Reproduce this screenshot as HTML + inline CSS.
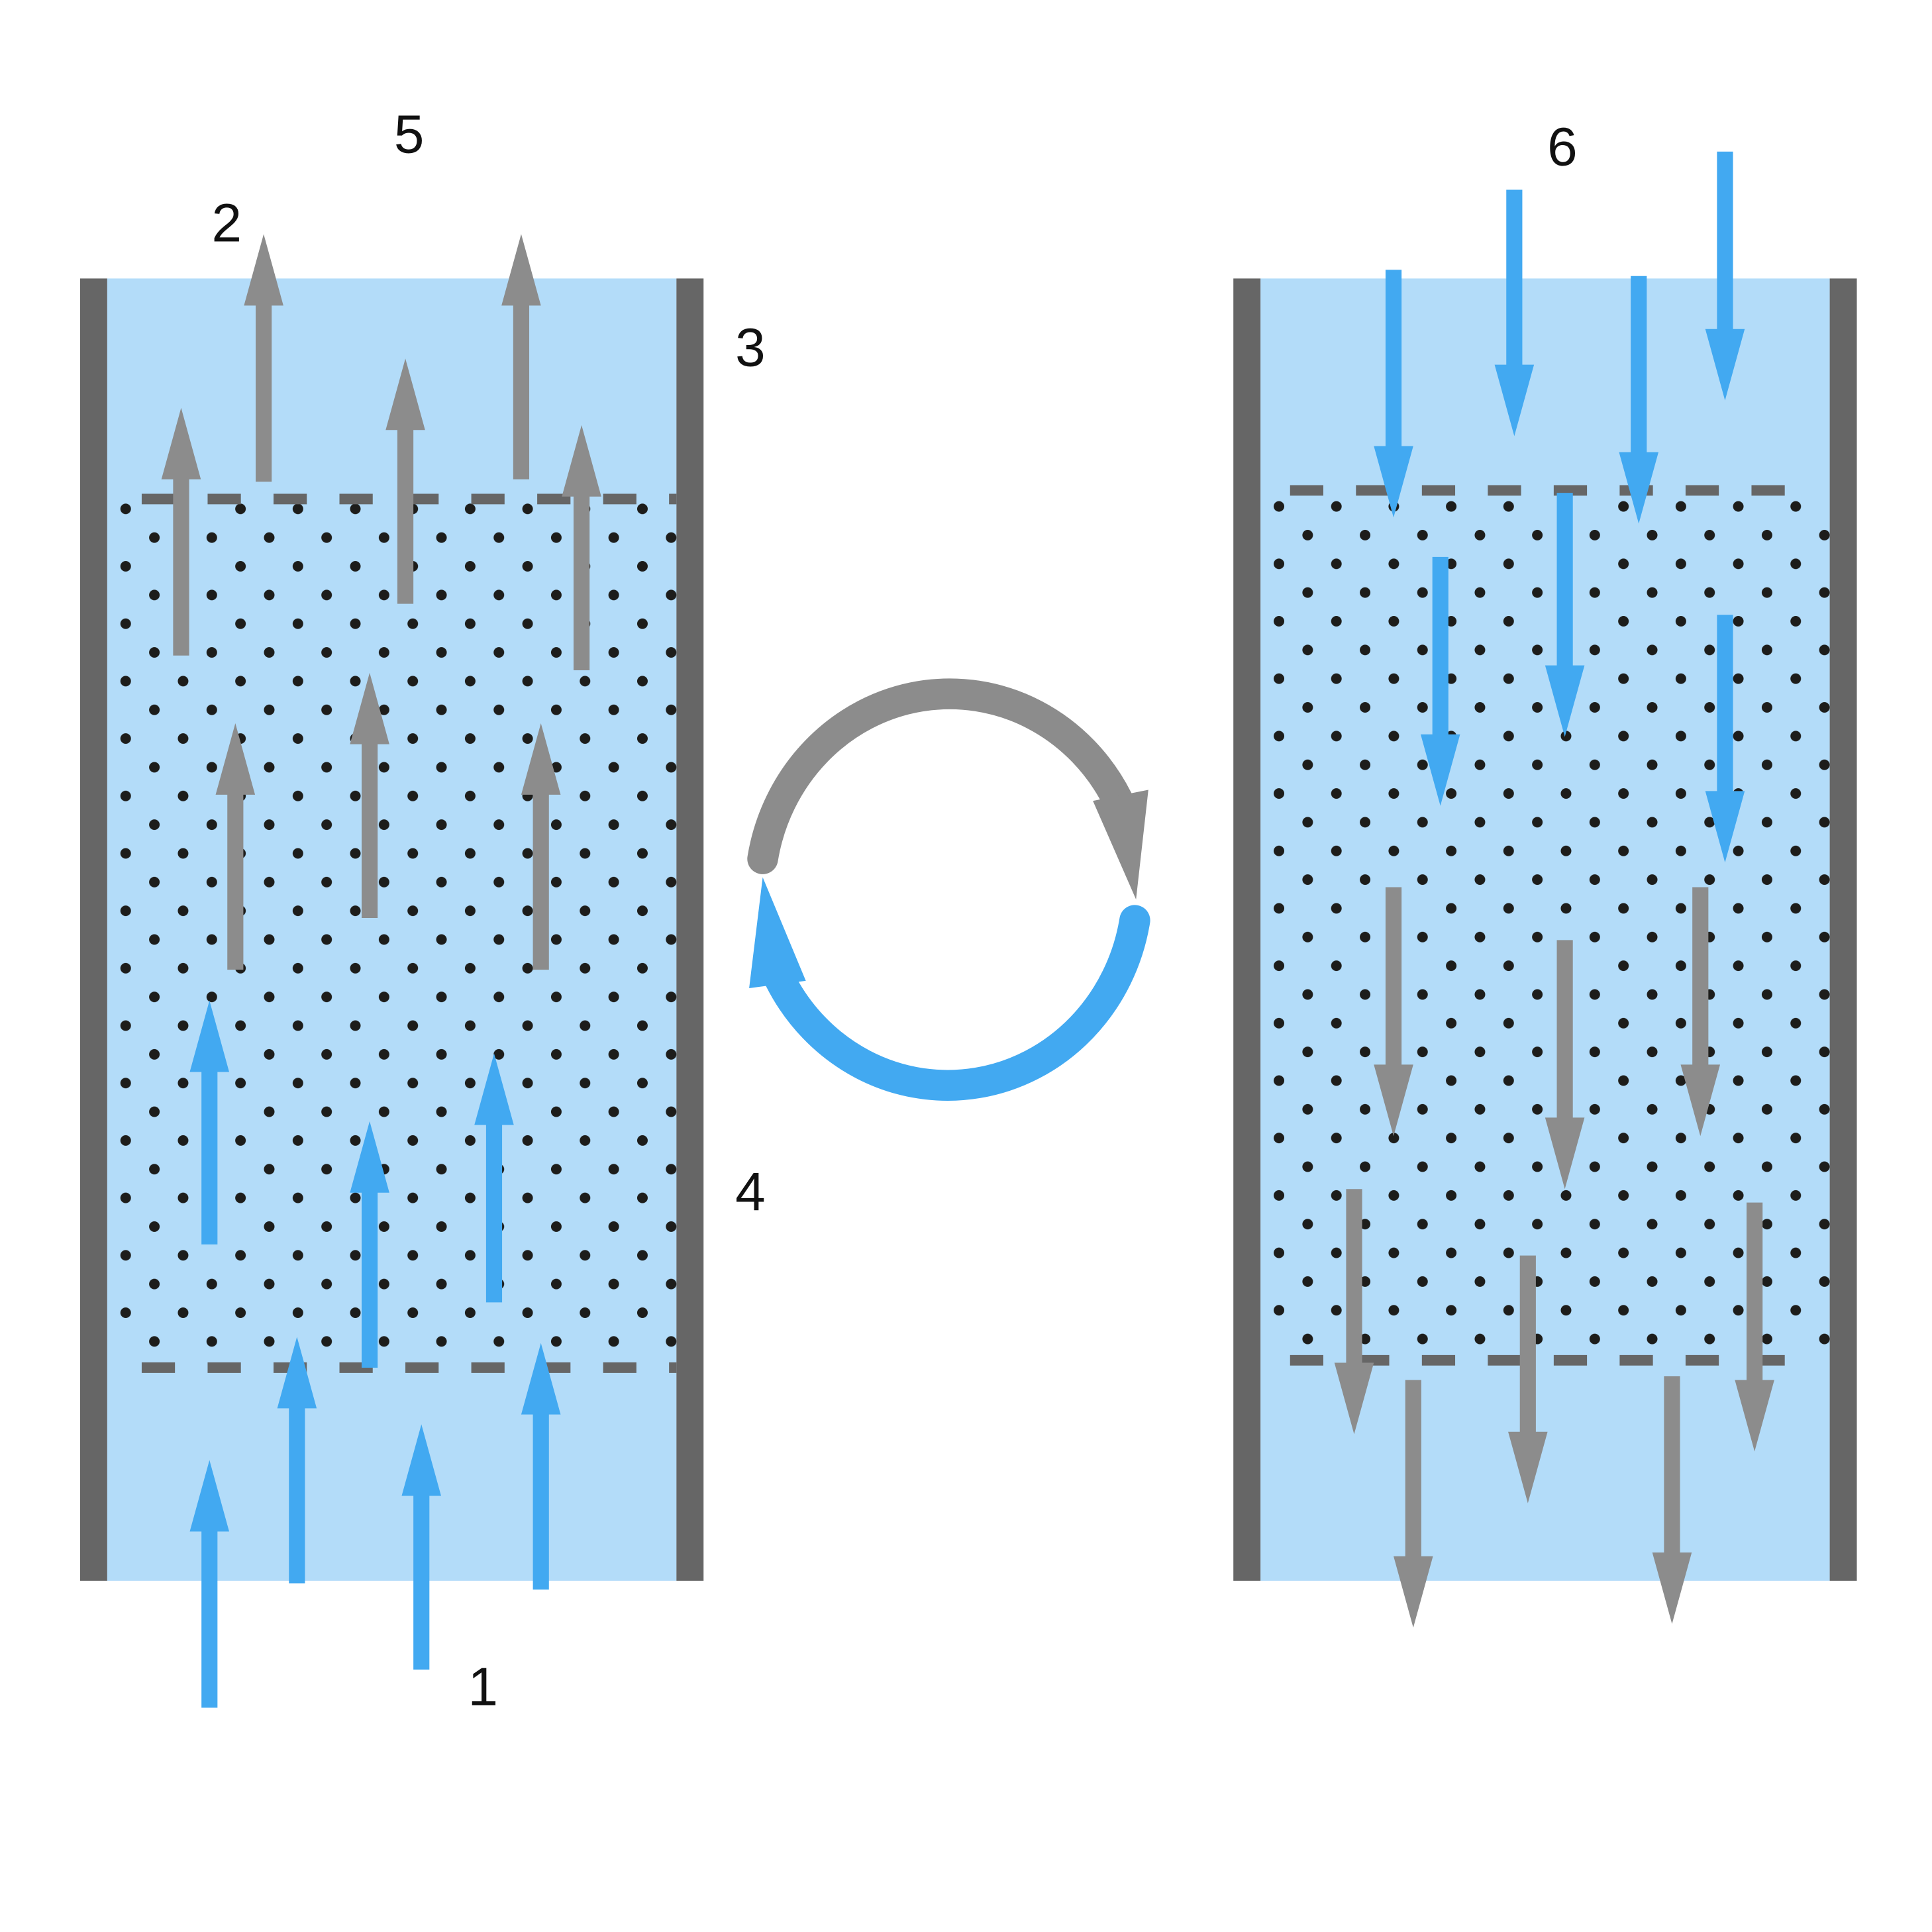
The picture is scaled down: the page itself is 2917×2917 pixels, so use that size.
<!DOCTYPE html>
<html><head><meta charset="utf-8"><style>html,body{margin:0;padding:0;background:#fff}svg{display:block}</style></head>
<body>
<svg width="2917" height="2917" viewBox="0 0 1568 1568" xmlns="http://www.w3.org/2000/svg">
<defs>
<pattern id="dl" patternUnits="userSpaceOnUse" x="102" y="413" width="46.6" height="46.6">
<circle cx="0" cy="0" r="4.3" fill="#1d1d1b"/><circle cx="46.6" cy="0" r="4.3" fill="#1d1d1b"/><circle cx="0" cy="46.6" r="4.3" fill="#1d1d1b"/><circle cx="46.6" cy="46.6" r="4.3" fill="#1d1d1b"/><circle cx="23.3" cy="23.3" r="4.3" fill="#1d1d1b"/>
</pattern>
<pattern id="dr" patternUnits="userSpaceOnUse" x="1038" y="411" width="46.6" height="46.6">
<circle cx="0" cy="0" r="4.3" fill="#1d1d1b"/><circle cx="46.6" cy="0" r="4.3" fill="#1d1d1b"/><circle cx="0" cy="46.6" r="4.3" fill="#1d1d1b"/><circle cx="46.6" cy="46.6" r="4.3" fill="#1d1d1b"/><circle cx="23.3" cy="23.3" r="4.3" fill="#1d1d1b"/>
</pattern>
</defs>
<rect width="1568" height="1568" fill="#fff"/>
<rect x="87" y="226" width="462" height="1057" fill="#b3dcf9"/>
<rect x="96" y="408" width="456" height="690" fill="url(#dl)"/>
<rect x="65" y="226" width="22" height="1057" fill="#666"/>
<rect x="549" y="226" width="22" height="1057" fill="#666"/>
<line x1="115" y1="405" x2="549" y2="405" stroke="#666" stroke-width="8.5" stroke-dasharray="27 26.5"/>
<line x1="115" y1="1110" x2="549" y2="1110" stroke="#666" stroke-width="8.5" stroke-dasharray="27 26.5"/>
<rect x="1023" y="226" width="462" height="1057" fill="#b3dcf9"/>
<rect x="1030" y="405" width="456" height="692" fill="url(#dr)"/>
<rect x="1001" y="226" width="22" height="1057" fill="#666"/>
<rect x="1485" y="226" width="22" height="1057" fill="#666"/>
<line x1="1047" y1="398" x2="1460" y2="398" stroke="#666" stroke-width="8.5" stroke-dasharray="27 26.5"/>
<line x1="1047" y1="1104" x2="1460" y2="1104" stroke="#666" stroke-width="8.5" stroke-dasharray="27 26.5"/>
<g fill="#8c8c8c">
<path d="M207.5 391V248H198L214 190L230 248H220.5V391Z"/>
<path d="M416.5 389V248H407L423 190L439 248H429.5V389Z"/>
<path d="M140.5 532V389H131L147 331L163 389H153.5V532Z"/>
<path d="M322.5 490V349H313L329 291L345 349H335.5V490Z"/>
<path d="M465.5 544V403H456L472 345L488 403H478.5V544Z"/>
<path d="M184.5 787V645H175L191 587L207 645H197.5V787Z"/>
<path d="M293.5 745V604H284L300 546L316 604H306.5V745Z"/>
<path d="M432.5 787V645H423L439 587L455 645H445.5V787Z"/>
</g>
<g fill="#42a9f1">
<path d="M163.5 1010V870H154L170 812L186 870H176.5V1010Z"/>
<path d="M293.5 1110V968H284L300 910L316 968H306.5V1110Z"/>
<path d="M394.5 1057V913H385L401 855L417 913H407.5V1057Z"/>
<path d="M234.5 1285V1143H225L241 1085L257 1143H247.5V1285Z"/>
<path d="M432.5 1290V1148H423L439 1090L455 1148H445.5V1290Z"/>
<path d="M163.5 1386V1243H154L170 1185L186 1243H176.5V1386Z"/>
<path d="M335.5 1355V1214H326L342 1156L358 1214H348.5V1355Z"/>
</g>
<g fill="#42a9f1">
<path d="M1124.5 219V362H1115L1131 420L1147 362H1137.5V219Z"/>
<path d="M1222.5 154V296H1213L1229 354L1245 296H1235.5V154Z"/>
<path d="M1323.5 224V367H1314L1330 425L1346 367H1336.5V224Z"/>
<path d="M1393.5 123V267H1384L1400 325L1416 267H1406.5V123Z"/>
<path d="M1162.5 452V596H1153L1169 654L1185 596H1175.5V452Z"/>
<path d="M1263.5 400V540H1254L1270 598L1286 540H1276.5V400Z"/>
<path d="M1393.5 499V642H1384L1400 700L1416 642H1406.5V499Z"/>
</g>
<g fill="#8c8c8c">
<path d="M1124.5 720V864H1115L1131 922L1147 864H1137.5V720Z"/>
<path d="M1263.5 763V907H1254L1270 965L1286 907H1276.5V763Z"/>
<path d="M1373.5 720V864H1364L1380 922L1396 864H1386.5V720Z"/>
<path d="M1092.5 965V1106H1083L1099 1164L1115 1106H1105.5V965Z"/>
<path d="M1233.5 1019V1162H1224L1240 1220L1256 1162H1246.5V1019Z"/>
<path d="M1417.5 976V1120H1408L1424 1178L1440 1120H1430.5V976Z"/>
<path d="M1140.5 1120V1263H1131L1147 1321L1163 1263H1153.5V1120Z"/>
<path d="M1350.5 1117V1260H1341L1357 1318L1373 1260H1363.5V1117Z"/>
</g>
<path d="M619 697 A154 161 0 0 1 907 649" fill="none" stroke="#8c8c8c" stroke-width="25" stroke-linecap="round"/>
<polygon points="887,650 932,641 922,730" fill="#8c8c8c"/>
<path d="M921 747 A154 161 0 0 1 633 795" fill="none" stroke="#42a9f1" stroke-width="25" stroke-linecap="round"/>
<polygon points="608,802 654,796 619,712" fill="#42a9f1"/>
<g font-family="Liberation Sans, DejaVu Sans, sans-serif" font-size="44" fill="#111" text-anchor="middle">
<text x="332" y="124">5</text>
<text x="184" y="196">2</text>
<text x="609" y="297">3</text>
<text x="609" y="982">4</text>
<text x="392" y="1384">1</text>
<text x="1268" y="134">6</text>
</g>
</svg>
</body></html>
